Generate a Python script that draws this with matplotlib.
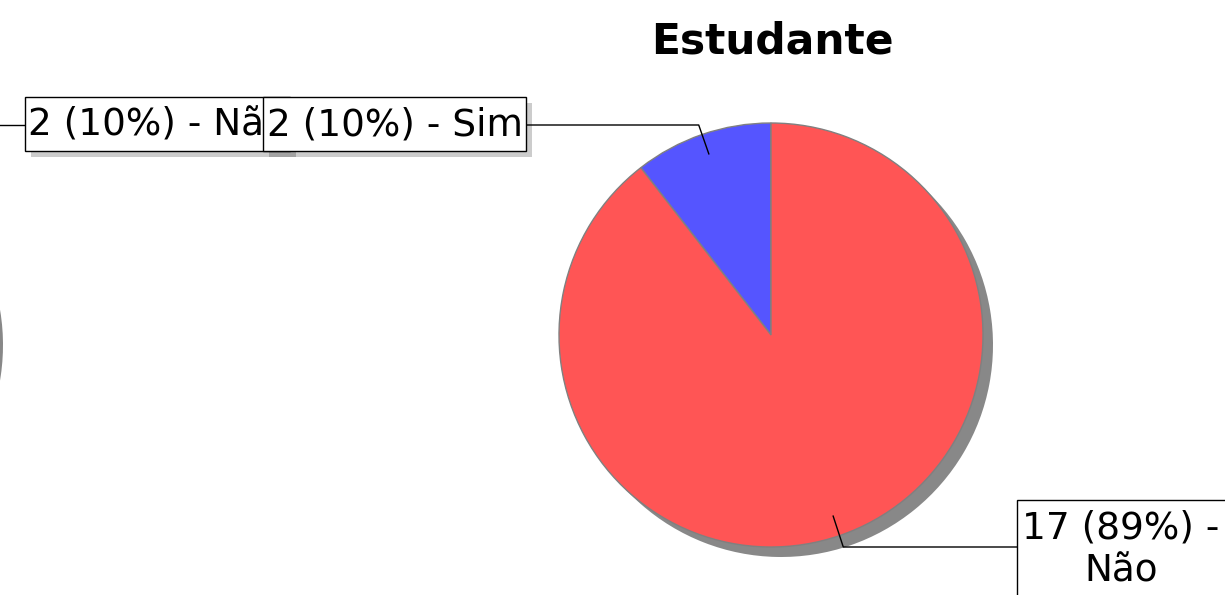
import numpy as np
import matplotlib
matplotlib.use("Agg")
import matplotlib.pyplot as plt
from matplotlib.patches import Rectangle

# ---- data ----
categories = ["Sim", "Não"]
estudante_values = [2, 17]
prev_values = [17, 2]          # previous (cut-off) chart on the left
title = "Estudante"
colors = ["#5555FF", "#FF5555"]

W, H = 1225, 595
fig = plt.figure(figsize=(W / 100, H / 100), dpi=100)
ax = fig.add_axes([0, 0, 1, 1])
ax.set_xlim(0, W)
ax.set_ylim(0, H)

R = 212
main_c = (771, H - 335)
prev_c = (-219, H - 335)
shadow_off = (10, -10)
FS = 26.9
PADL, PADR, PAD_TOP, PAD_BOT = 3.5, 3, 9.5, 7.5
BOX_SHADOW = 6


def draw_pie(center, values, cols):
    sc = (center[0] + shadow_off[0], center[1] + shadow_off[1])
    ax.pie(values, center=sc, radius=R, startangle=90, counterclock=True,
           colors=["#888888"] * len(values), frame=True,
           wedgeprops=dict(linewidth=0))
    ax.pie(values, center=center, radius=R, startangle=90, counterclock=True,
           colors=cols, frame=True,
           wedgeprops=dict(edgecolor="#808080", linewidth=1.0))


def label_text(v, total, cat):
    pct = int(v / total * 100)
    return f"{v} ({pct}%) - {cat}"


def mid_angle(values, i):
    total = sum(values)
    start = 90 + 360 * sum(values[:i]) / total
    return np.deg2rad(start + 180 * values[i] / total)


def leader(center, values, i, x_end, y_line):
    a = mid_angle(values, i)
    p0 = (center[0] + 0.9 * R * np.cos(a), center[1] + 0.9 * R * np.sin(a))
    p1x = center[0] + 1.05 * R * np.cos(a)
    ax.plot([p0[0], p1x, x_end], [p0[1], y_line, y_line],
            color="black", lw=1.0, solid_capstyle="butt", zorder=3)


renderer = fig.canvas.get_renderer()
z = [5.0]


def boxed(x, y, s, ha, va, left=None, right=None):
    t = ax.text(x, y, s, ha=ha, va=va, fontsize=FS, multialignment="center",
                zorder=z[0] + 0.2)
    ext = t.get_window_extent(renderer)
    x0 = ext.x0 - PADL if left is None else left
    x1 = ext.x1 + PADR if right is None else right
    y0 = ext.y0 - PAD_BOT
    y1 = ext.y1 + PAD_TOP
    ax.add_patch(Rectangle((x0 + BOX_SHADOW, y0 - BOX_SHADOW), x1 - x0, y1 - y0,
                           facecolor="black", alpha=0.2, linewidth=0,
                           zorder=z[0]))
    ax.add_patch(Rectangle((x0, y0), x1 - x0, y1 - y0, facecolor="white",
                           edgecolor="black", linewidth=1.0, zorder=z[0] + 0.1))
    z[0] += 1
    return t


draw_pie(prev_c, prev_values, colors)
draw_pie(main_c, estudante_values, colors)

tot_prev = sum(prev_values)
tot = sum(estudante_values)

# previous chart label (cut off)
leader(prev_c, prev_values, 1, 25, H - 125)
boxed(28.5, H - 135, label_text(prev_values[1], tot_prev, categories[1]),
      "left", "baseline")

# Sim
leader(main_c, estudante_values, 0, 526, H - 125)
boxed(522.7, H - 135, label_text(estudante_values[0], tot, categories[0]),
      "right", "baseline")

# Não (two lines; baseline alignment refers to the last line)
leader(main_c, estudante_values, 1, 1017, H - 547)
s = label_text(estudante_values[1], tot, categories[1]).replace(" - ", " -\n")
boxed(1022.5, H - 581.5, s, "left", "baseline", left=1016.7, right=1235)

ax.text(772, H - 42, title, ha="center", va="center", fontsize=30.5,
        fontweight="bold")

ax.set_xlim(0, W)
ax.set_ylim(0, H)
ax.set_aspect("auto")
ax.axis("off")

fig.savefig("out.png", dpi=100, facecolor="white")
